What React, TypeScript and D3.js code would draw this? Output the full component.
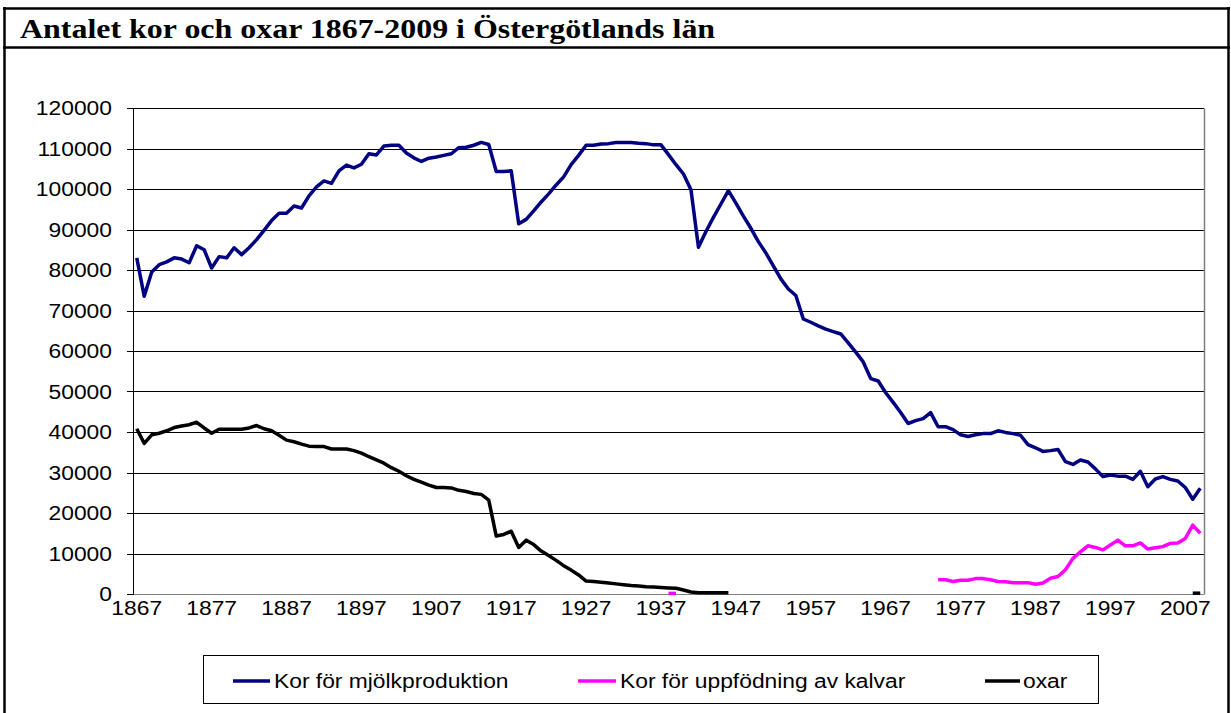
import React from "react";
import * as d3 from "d3";

const TITLE = "Antalet kor och oxar 1867-2009 i Östergötlands län";
const FIRST_YEAR = 1867;
const LAST_YEAR = 2009;
const yTicks = [0, 10000, 20000, 30000, 40000, 50000, 60000, 70000, 80000, 90000, 100000, 110000, 120000];
const xTickLabels = [1867, 1877, 1887, 1897, 1907, 1917, 1927, 1937, 1947, 1957, 1967, 1977, 1987, 1997, 2007];

// Kor för mjölkproduktion, 1867-2009
const mjolkkor = [
  83000, 73500, 79500, 81300, 82000, 83000, 82700, 81800, 86000, 85000,
  80500, 83300, 83000, 85500, 83800, 85500, 87500, 89800, 92200, 94000,
  94000, 95800, 95300, 98300, 100500, 102000, 101400, 104500, 105900, 105200,
  106100, 108700, 108400, 110600, 110800, 110800, 108900, 107700, 106800, 107600,
  107900, 108300, 108700, 110200, 110300, 110800, 111500, 111000, 104300, 104300,
  104500, 91400, 92500, 94600, 96800, 98800, 101000, 103000, 106000, 108300,
  110800, 110800, 111100, 111200, 111500, 111500, 111500, 111300, 111200, 110900,
  110900, 108500, 106000, 103700, 99800, 85600, 89500, 93000, 96300, 99600,
  96500, 93300, 90300, 87000, 84200, 81000, 77800, 75300, 73700, 67900,
  67100, 66200, 65400, 64800, 64200, 62000, 59700, 57300, 53200, 52600,
  49700, 47300, 44800, 42100, 42800, 43300, 44800, 41300, 41300, 40600,
  39300, 38900, 39300, 39600, 39600, 40300, 39900, 39600, 39200, 36900,
  36100, 35200, 35400, 35700, 32700, 32000, 33100, 32600, 30900, 29000,
  29400, 29100, 29100, 28300, 30300, 26500, 28400, 29000, 28300, 27900,
  26300, 23400, 26100,
];

// Kor för uppfödning av kalvar
const kalvkorEarlyYears = [1938, 1939];
const kalvkorEarly = [150, 150];
const kalvkorLateStart = 1974;
const kalvkorLate = [
  3600, 3500, 3100, 3400, 3400, 3800, 3800, 3500, 3100, 3000,
  2800, 2800, 2800, 2400, 2700, 3900, 4300, 6000, 8800, 10400,
  11900, 11500, 10900, 12100, 13300, 11900, 11900, 12600, 11100, 11400,
  11700, 12500, 12600, 13700, 17000, 15000,
];

// oxar
const oxarEarlyStart = 1867;
const oxarEarly = [
  40800, 37200, 39300, 39700, 40300, 41100, 41500, 41800, 42400, 41000,
  39700, 40700, 40700, 40700, 40700, 41000, 41600, 40800, 40300, 39200,
  38000, 37600, 37000, 36500, 36400, 36400, 35800, 35800, 35800, 35400,
  34800, 33900, 33100, 32300, 31200, 30300, 29200, 28300, 27600, 26900,
  26300, 26300, 26200, 25600, 25300, 24800, 24600, 23200, 14300, 14700,
  15500, 11500, 13300, 12200, 10600, 9500, 8300, 7000, 5900, 4700,
  3200, 3100, 2900, 2700, 2500, 2300, 2100, 2000, 1800, 1700,
  1600, 1500, 1400, 1000, 500, 300, 300, 300, 300, 300,
];
const oxarLateYears = [2008, 2009];
const oxarLate = [200, 200];

const seriesNames = ["Kor för mjölkproduktion", "Kor för uppfödning av kalvar", "oxar"];
const seriesColors = ["#000080", "#FF00FF", "#000000"];

type Pt = [number, number];

export default function App() {
  const W = 1231, H = 713;
  const left = 133, right = 1204, top = 108, bottom = 594;
  const SX = 1.17;
  const years = d3.range(FIRST_YEAR, LAST_YEAR + 1);
  const xb = d3.scaleBand<number>().domain(years).range([left, right]).padding(0);
  const xc = (yr: number) => (xb(yr) as number) + xb.bandwidth() / 2;
  const y = d3.scaleLinear().domain([0, 120000]).range([bottom, top]);
  const line = d3.line<Pt>().x((d) => xc(d[0])).y((d) => y(d[1]));

  const blueSegs: Pt[][] = [mjolkkor.map((v, i) => [FIRST_YEAR + i, v] as Pt)];
  const pinkSegs: Pt[][] = [
    kalvkorEarly.map((v, i) => [kalvkorEarlyYears[i], v] as Pt),
    kalvkorLate.map((v, i) => [kalvkorLateStart + i, v] as Pt),
  ];
  const blackSegs: Pt[][] = [
    oxarEarly.map((v, i) => [oxarEarlyStart + i, v] as Pt),
    oxarLate.map((v, i) => [oxarLateYears[i], v] as Pt),
  ];
  const allSegs = [blueSegs, pinkSegs, blackSegs];

  const sans = "'Liberation Sans', Arial, sans-serif";
  const serif = "'Liberation Serif', 'Times New Roman', serif";
  const txt = (x: number, yy: number, s: string | number, anchor: string, key: string, size = 19.5) => (
    <text key={key} transform={`translate(${x},${yy}) scale(${SX},1)`} textAnchor={anchor} fontFamily={sans} fontSize={size} fill="#000">
      {s}
    </text>
  );

  const legendItems = [
    { x1: 233, x2: 270, tx: 274 },
    { x1: 578, x2: 616, tx: 620 },
    { x1: 985, x2: 1020, tx: 1023 },
  ];

  return (
    <svg width={W} height={H} style={{ position: "absolute", left: 0, top: 0, background: "#fff" }}>
      <rect x={0} y={0} width={W} height={H} fill="#fff" />
      {/* frame */}
      <line x1={3} x2={1230} y1={8.5} y2={8.5} stroke="#000" strokeWidth={2.5} />
      <line x1={4.5} x2={4.5} y1={7} y2={H} stroke="#000" strokeWidth={2.5} />
      <line x1={1228.5} x2={1228.5} y1={7} y2={H} stroke="#000" strokeWidth={2.5} />
      <line x1={3} x2={1230} y1={47.5} y2={47.5} stroke="#000" strokeWidth={2.5} />
      <text transform={`translate(20,38) scale(${SX},1)`} fontFamily={serif} fontWeight="bold" fontSize={27.3} fill="#000">
        {TITLE}
      </text>

      {/* gridlines */}
      {yTicks.map((t) => (
        <line key={"g" + t} x1={left} x2={right} y1={Math.round(y(t)) + 0.5} y2={Math.round(y(t)) + 0.5} stroke={t === 0 ? "#808080" : "#000"} strokeWidth={1} />
      ))}
      {/* plot border right */}
      <line x1={right + 0.5} x2={right + 0.5} y1={Math.round(y(120000)) + 0.5} y2={Math.round(y(0)) + 0.5} stroke="#808080" strokeWidth={1.5} />
      {/* y axis */}
      <line x1={left + 0.5} x2={left + 0.5} y1={Math.round(y(120000))} y2={Math.round(y(0)) + 1} stroke="#000" strokeWidth={1} />
      {yTicks.map((t) => (
        <line key={"t" + t} x1={left - 6} x2={left} y1={Math.round(y(t)) + 0.5} y2={Math.round(y(t)) + 0.5} stroke="#000" strokeWidth={1} />
      ))}
      {yTicks.map((t) => txt(112, y(t) + 7, t, "end", "yl" + t))}
      {xTickLabels.map((yr) => txt(xc(yr), 615, yr, "middle", "xl" + yr))}

      {/* series */}
      {allSegs.map((segs, si) =>
        segs.map((seg, j) => (
          <path key={`s${si}-${j}`} d={line(seg) || ""} fill="none" stroke={seriesColors[si]} strokeWidth={3.5} strokeLinejoin="round" strokeLinecap="butt" />
        ))
      )}

      {/* legend */}
      <rect x={203.5} y={655.5} width={895} height={48} fill="#fff" stroke="#000" strokeWidth={1} />
      {legendItems.map((it, i) => (
        <g key={"lg" + i}>
          <line x1={it.x1} x2={it.x2} y1={681} y2={681} stroke={seriesColors[i]} strokeWidth={3.5} />
          {txt(it.tx, 688, seriesNames[i], "start", "lt" + i)}
        </g>
      ))}
    </svg>
  );
}
